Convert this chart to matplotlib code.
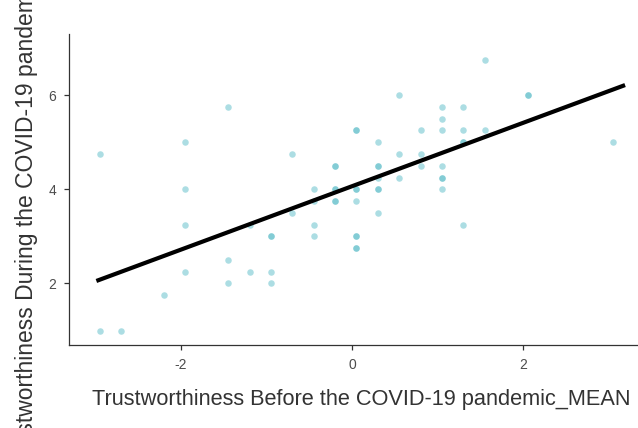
import matplotlib
matplotlib.use("Agg")
import matplotlib.pyplot as plt
import numpy as np

# Mean-centred trust scores before the pandemic (x) and during it (y)
trust_before = [
    -2.95, -2.95, -2.70, -2.20,
    -1.95, -1.95, -1.95, -1.95,
    -1.45, -1.45, -1.45,
    -1.20, -1.20,
    -0.95, -0.95, -0.95, -0.95,
    -0.70, -0.70,
    -0.45, -0.45, -0.45, -0.45,
    -0.20, -0.20, -0.20, -0.20, -0.20, -0.20,
    0.05, 0.05, 0.05, 0.05, 0.05, 0.05, 0.05, 0.05, 0.05,
    0.30, 0.30, 0.30, 0.30, 0.30, 0.30, 0.30,
    0.55, 0.55, 0.55,
    0.80, 0.80, 0.80,
    1.05, 1.05, 1.05, 1.05, 1.05, 1.05, 1.05,
    1.30, 1.30, 1.30, 1.30, 1.30,
    1.55, 1.55,
    2.05, 2.05,
    3.05,
]
trust_during = [
    4.75, 1.00, 1.00, 1.75,
    5.00, 4.00, 3.25, 2.25,
    5.75, 2.50, 2.00,
    3.25, 2.25,
    3.00, 3.00, 2.25, 2.00,
    4.75, 3.50,
    4.00, 3.75, 3.25, 3.00,
    4.50, 4.50, 4.00, 4.00, 3.75, 3.75,
    5.25, 5.25, 4.00, 4.00, 3.75, 3.00, 3.00, 2.75, 2.75,
    5.00, 4.50, 4.50, 4.25, 4.00, 4.00, 3.50,
    6.00, 4.75, 4.25,
    5.25, 4.75, 4.50,
    5.75, 5.50, 5.25, 4.50, 4.25, 4.25, 4.00,
    5.75, 5.25, 5.00, 5.00, 3.25,
    6.75, 5.25,
    6.00, 6.00,
    5.00,
]

# Fitted regression line
fit_intercept = 4.066
fit_slope = 0.673
fit_x_span = [-2.99, 3.19]

x_ticks = [-2, 0, 2]
y_ticks = [2, 4, 6]

W, H = 638, 428
fig = plt.figure(figsize=(W / 100, H / 100), dpi=100)
plt.rcParams["font.family"] = ["Liberation Sans", "DejaVu Sans"]

# panel placed in pixel units
left_px, right_px, top_px, bottom_px = 69, 655, 34, 345
ax = fig.add_axes([left_px / W, 1 - bottom_px / H,
                   (right_px - left_px) / W, (bottom_px - top_px) / H])

ax.scatter(trust_before, trust_during, s=22, color="#5bbcc8", alpha=0.5,
           linewidths=0, zorder=2)

line_x = np.array(fit_x_span)
ax.plot(line_x, fit_intercept + fit_slope * line_x, color="black", lw=3.0,
        solid_capstyle="butt", zorder=3)

ax.set_xlim(-3.31, 3.54)
ax.set_ylim(0.694, 7.297)
ax.set_xticks(x_ticks)
ax.set_yticks(y_ticks)
ax.set_xticklabels([str(v) for v in x_ticks])
ax.set_yticklabels([str(v) for v in y_ticks])

for side in ("top", "right"):
    ax.spines[side].set_visible(False)
for side in ("left", "bottom"):
    ax.spines[side].set_color("#333333")
    ax.spines[side].set_linewidth(0.9)
ax.tick_params(axis="both", colors="#333333", length=3.6, width=0.9,
               labelsize=10, labelcolor="#4d4d4d", pad=5.5)

fig.text(361 / W, 1 - 405 / H,
         "Trustworthiness Before the COVID-19 pandemic_MEAN",
         ha="center", va="baseline", fontsize=15.7, color="#333333")
fig.text(33.3 / W, 1 - 182 / H,
         "Trustworthiness During the COVID-19 pandemic_MEAN",
         ha="center", va="baseline", rotation=90, rotation_mode="anchor",
         fontsize=16.5, color="#333333")

fig.savefig("out.png", dpi=100)
